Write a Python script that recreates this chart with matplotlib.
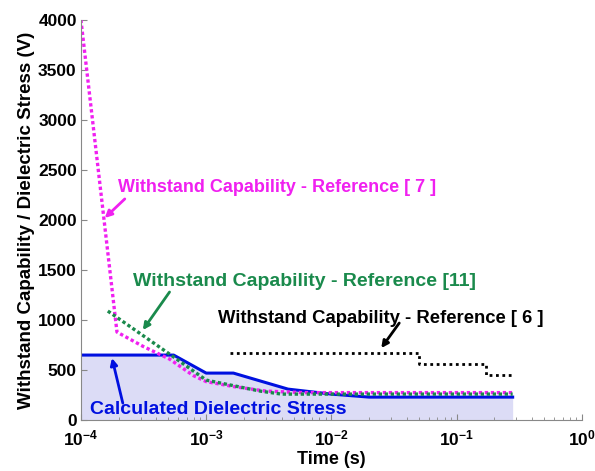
import numpy as np
import matplotlib.pyplot as plt
from matplotlib.ticker import LogLocator, NullFormatter

plt.rcParams['font.family'] = ['Liberation Sans', 'DejaVu Sans']
plt.rcParams['font.weight'] = 'bold'
plt.rcParams['mathtext.fontset'] = 'custom'
plt.rcParams['mathtext.rm'] = 'Liberation Sans:bold'
plt.rcParams['mathtext.default'] = 'rm'

# withstand capability - reference [7]
ref7_t = [1e-4, 1.53e-4, 1.94e-4, 3.1e-4, 5.1e-4, 7.9e-4, 1e-3, 1.66e-3, 3e-3, 6e-3, 0.28]
ref7_v = [4000, 2000, 880, 740, 610, 445, 385, 335, 290, 275, 275]
# withstand capability - reference [11]
ref11_t = [1.64e-4, 5.1e-4, 1e-3, 2.7e-3, 4e-3, 0.28]
ref11_v = [1090, 660, 400, 290, 260, 260]
# withstand capability - reference [6]
ref6_t = [1.55e-3, 0.05, 0.05, 0.17, 0.17, 0.28]
ref6_v = [670, 670, 560, 560, 450, 450]
# calculated dielectric stress
calc_t = [1e-4, 5.5e-4, 1e-3, 1.65e-3, 4.5e-3, 1e-2, 0.02, 0.28]
calc_v = [650, 650, 470, 470, 310, 260, 230, 230]

fig = plt.figure(figsize=(5.95, 4.71), dpi=100)
ax = fig.add_axes([0.136, 0.108, 0.842, 0.850])

ax.fill_between(calc_t, calc_v, 0, color='#dcdcf6', lw=0)
ax.plot(calc_t, calc_v, color='#0010e0', lw=2.2)
ax.plot(ref7_t, ref7_v, color='#f020f0', lw=2.4, linestyle=(0, (1, 0.8)))
ax.plot(ref11_t, ref11_v, color='#1a8a4c', lw=2.4, linestyle=(0, (1, 0.8)))
ax.plot(ref6_t, ref6_v, color='black', lw=2.0, linestyle=(0, (1, 1.3)))

ax.set_xscale('log')
ax.set_xlim(1e-4, 1)
ax.set_ylim(0, 4000)
ax.set_yticks(np.arange(0, 4001, 500))
ax.xaxis.set_minor_locator(LogLocator(base=10, subs=np.arange(2, 10), numticks=20))
ax.xaxis.set_minor_formatter(NullFormatter())

for s in ['top', 'right']:
    ax.spines[s].set_visible(False)
for s in ['left', 'bottom']:
    ax.spines[s].set_color('#888888')
ax.tick_params(which='both', direction='in', colors='#888888', labelcolor='black')
ax.tick_params(axis='y', labelsize=12.5, pad=3)
ax.tick_params(axis='x', labelsize=12.5, pad=6)
ax.tick_params(which='major', length=4)
ax.tick_params(which='minor', length=2)

ax.set_xlabel('Time (s)', fontsize=13, fontweight='bold', labelpad=2)
ax.set_ylabel('Withstand Capability / Dielectric Stress (V)', fontsize=13.5, fontweight='bold', labelpad=2)

# labels
ax.text(1.97e-4, 2320, 'Withstand Capability - Reference [ 7 ]', fontsize=13,
        fontweight='bold', color='#f020f0', va='center')
ax.text(2.6e-4, 1390, 'Withstand Capability - Reference [11]', fontsize=14,
        fontweight='bold', color='#1a8a4c', va='center')
ax.text(1.24e-3, 1020, 'Withstand Capability - Reference [ 6 ]', fontsize=13.3,
        fontweight='bold', color='black', va='center')
ax.text(1.18e-4, 110, 'Calculated Dielectric Stress', fontsize=14,
        fontweight='bold', color='#0010e0', va='center')

# arrows
arw = dict(arrowstyle='-|>', lw=2, shrinkA=0, shrinkB=0, mutation_scale=10)
ax.annotate('', xy=(1.55e-4, 2020), xytext=(2.24e-4, 2210), arrowprops=dict(arw, color='#f020f0'))
ax.annotate('', xy=(3.12e-4, 900), xytext=(5.1e-4, 1280), arrowprops=dict(arw, color='#1a8a4c'))
ax.annotate('', xy=(0.025, 720), xytext=(0.0348, 970), arrowprops=dict(arw, color='black'))
ax.annotate('', xy=(1.77e-4, 620), xytext=(2.16e-4, 170), arrowprops=dict(arw, color='#0010e0'))

fig.savefig('out.png', dpi=100)
